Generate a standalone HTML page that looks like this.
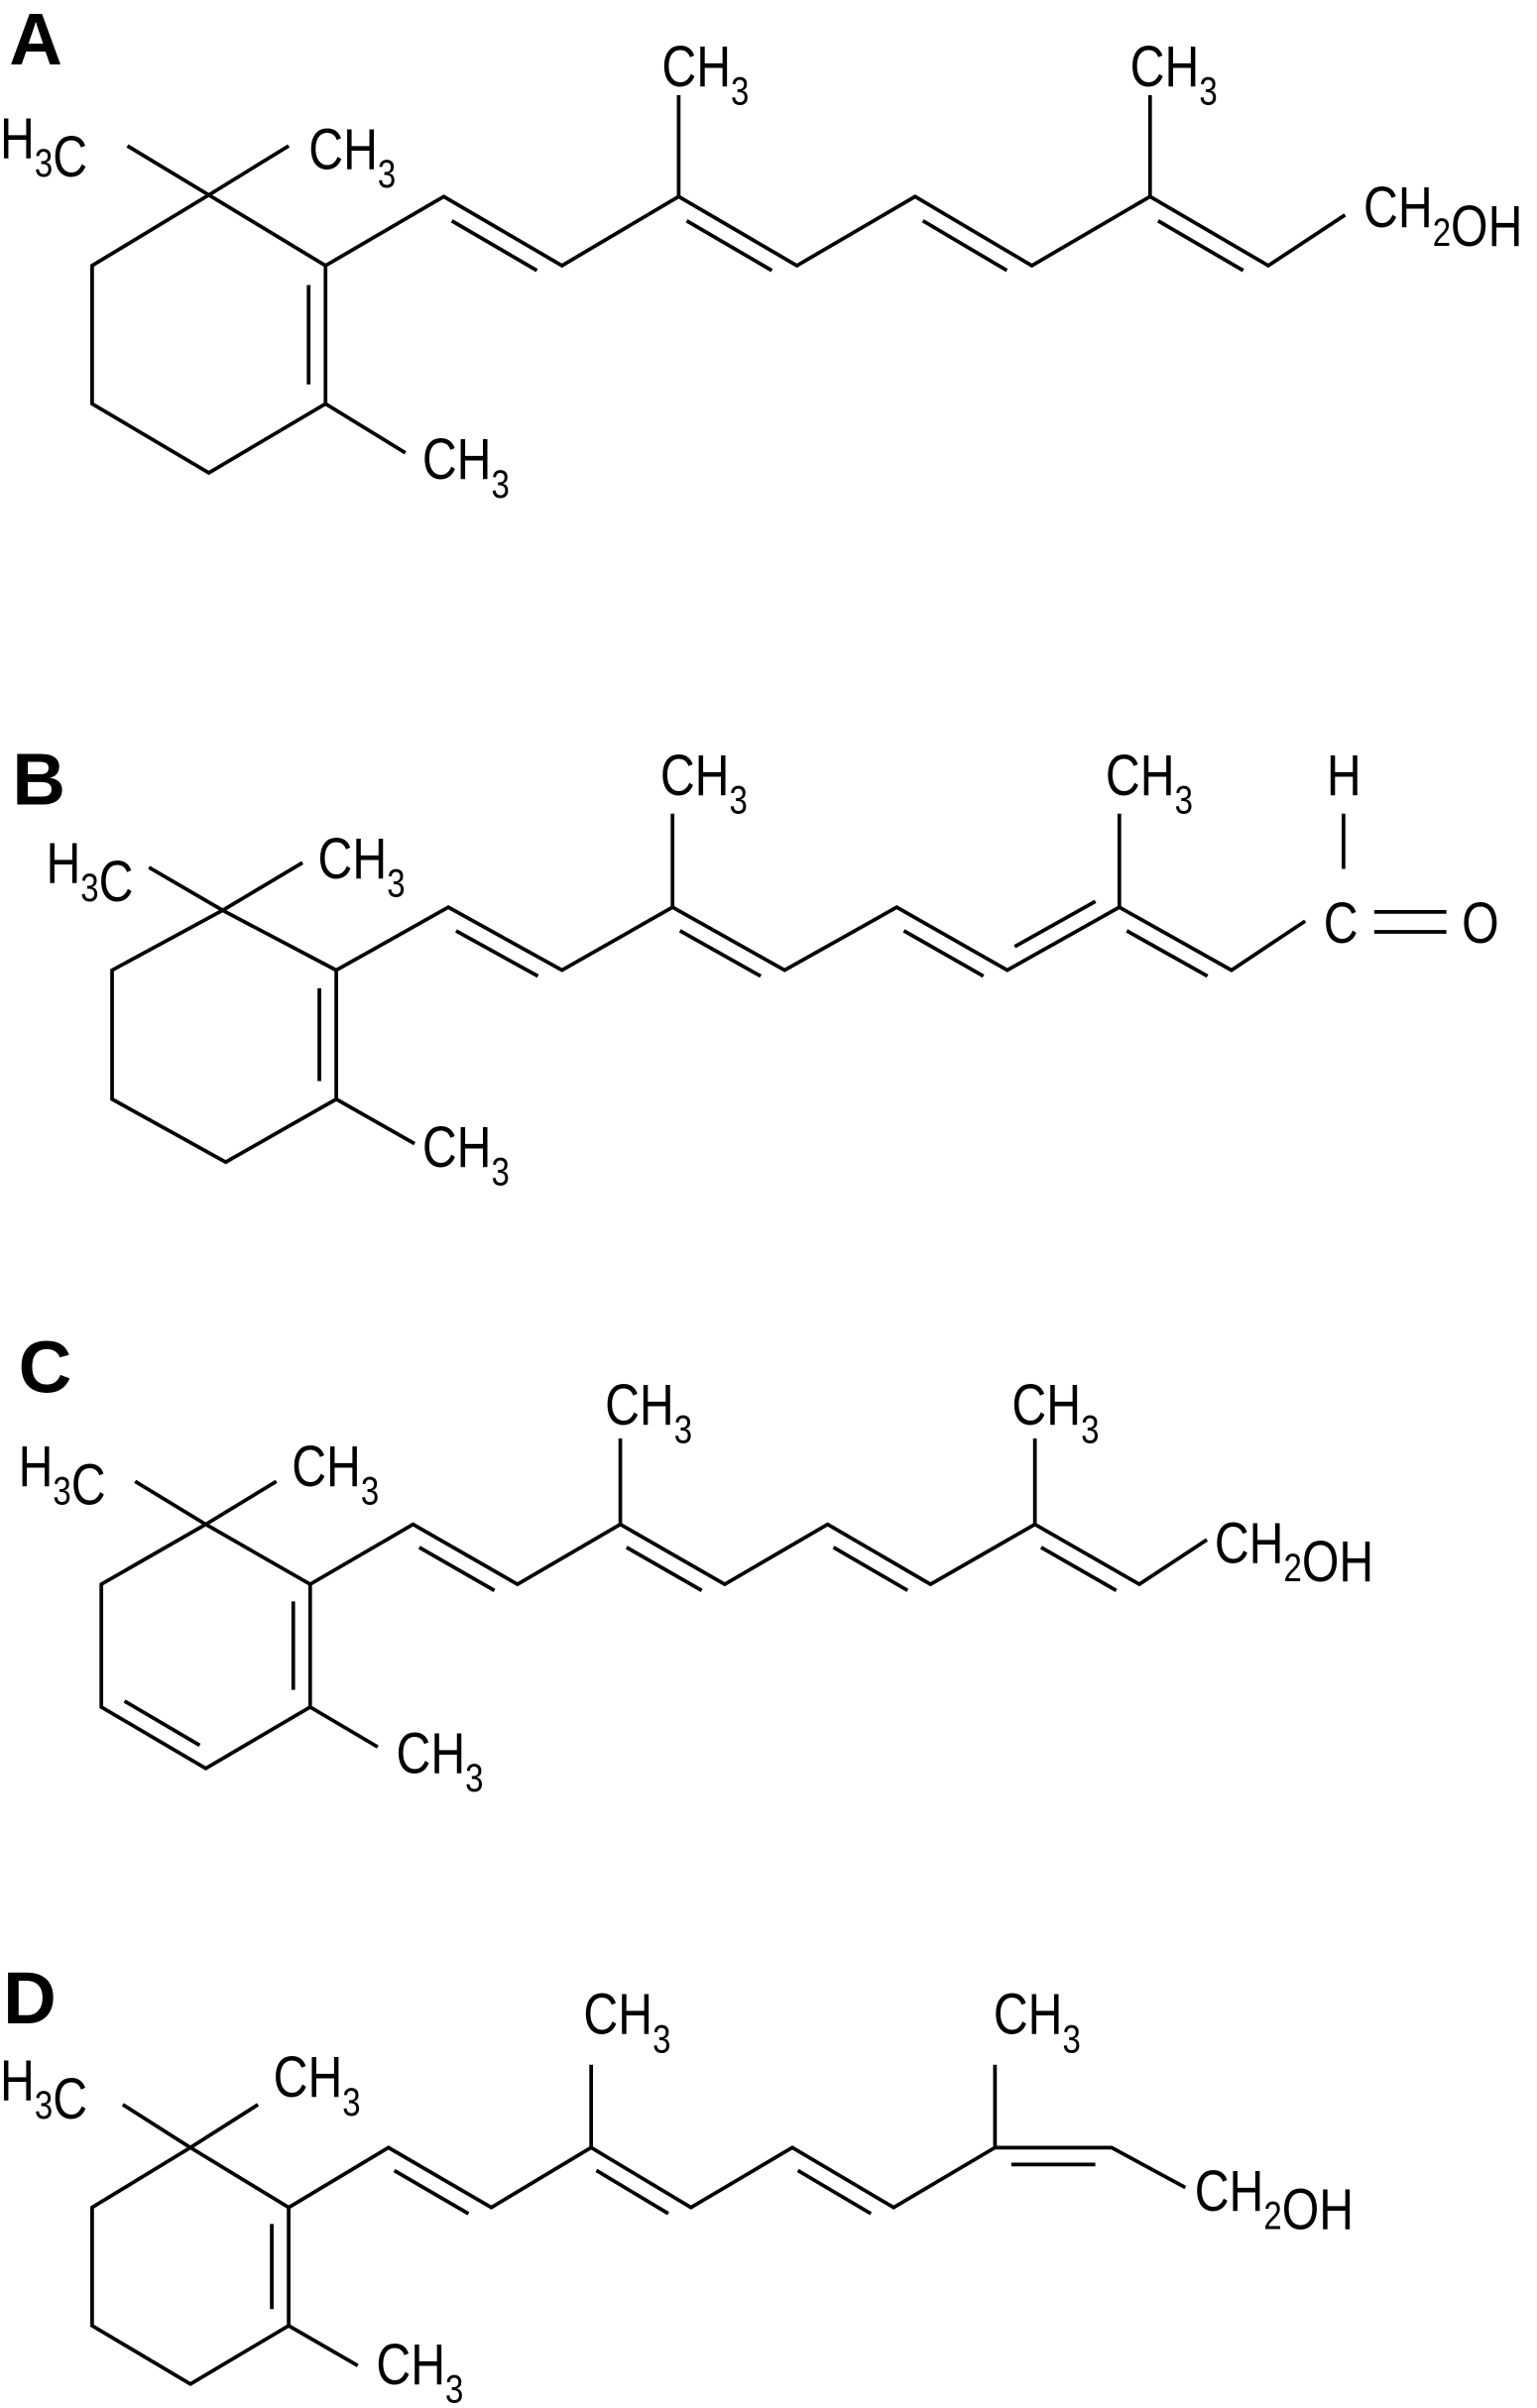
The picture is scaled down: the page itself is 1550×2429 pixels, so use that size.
<!DOCTYPE html>
<html><head><meta charset="utf-8">
<style>
html,body{margin:0;padding:0;background:#fff;}
svg{display:block;}
text{font-family:"Liberation Sans","DejaVu Sans",sans-serif;fill:#000;}
.lbl{font-size:38px;}
.sub{font-size:26px;}
.big{font-size:48px;font-weight:bold;}
</style></head>
<body>
<svg id="s" xmlns="http://www.w3.org/2000/svg" width="1550" height="2429" viewBox="0 0 1001 1568.6">
<g id="g" stroke="#000" stroke-width="2.4" fill="none" stroke-linecap="butt" stroke-linejoin="miter"></g>
<g id="t"></g>
</svg>
<script>
var g=document.getElementById('g'),t=document.getElementById('t');
var NS="http://www.w3.org/2000/svg";
var OY=0;
function L(a,b,c,d){var e=document.createElementNS(NS,'line');e.setAttribute('x1',a);e.setAttribute('y1',b+OY);e.setAttribute('x2',c);e.setAttribute('y2',d+OY);g.appendChild(e);}
function P(pts){var e=document.createElementNS(NS,'polyline');e.setAttribute('points',pts.map(function(p){return p[0]+','+(p[1]+OY)}).join(' '));g.appendChild(e);}
function D(p,q,s){var dx=q[0]-p[0],dy=q[1]-p[1],l=Math.hypot(dx,dy);var nx=-dy/l*s*11,ny=dx/l*s*11;var f=0.14;
L(p[0]+dx*f+nx,p[1]+dy*f+ny,q[0]-dx*f+nx,q[1]-dy*f+ny);}
function T(x,y,parts,cls){var e=document.createElementNS(NS,'text');e.setAttribute('x',0);e.setAttribute('y',0);e.setAttribute('class',cls||'lbl');
e.setAttribute('transform','translate('+x+','+y+') scale('+(cls?1:0.82)+',1)');
var h='';parts.forEach(function(p){if(typeof p==='string')h+='<tspan>'+p+'</tspan>';else h+='<tspan class="sub" dy="12">'+p[0]+'</tspan><tspan dy="-12"></tspan>';});
e.innerHTML=h;t.appendChild(e);}
var CH3=['CH',['3']],H3C=['H',['3'],'C'],CH2OH=['CH',['2'],'OH'];

// A
(function(){var q=[136,127],c1=[212,173],c2=[212,263],c3=[136,308],c4=[60,263],c5=[60,173];
P([q,c1,c2,c3,c4,c5,q]);D(c1,c2,1);L(136,127,83,95);L(136,127,188,95);L(212,263,264,295);
var ch=[c1,[289,128],[366,173],[442,128],[519,173],[596,128],[672,173],[749,128],[826,173],[876,140]];P(ch);
D(ch[1],ch[2],1);D(ch[3],ch[4],1);D(ch[5],ch[6],1);D(ch[7],ch[8],1);
L(442,128,442,62);L(749,128,749,62);
T(6,42,['A'],'big');T(0,103,H3C);T(201,110,CH3);T(275,312,CH3);T(431,56,CH3);T(736,56,CH3);T(888,148,CH2OH);})();

// B
(function(){var q=[145,593],c1=[219,632],c2=[219,716],c3=[147,757],c4=[73,716],c5=[73,632];
P([q,c1,c2,c3,c4,c5,q]);D(c1,c2,1);L(145,593,97,565);L(145,593,197,562);L(219,716,270,745);
var ch=[c1,[292,591],[366,632],[438,591],[511,632],[584,591],[656,632],[729,591],[802,632],[850,600]];P(ch);
D(ch[1],ch[2],1);D(ch[3],ch[4],1);D(ch[5],ch[6],1);D(ch[6],ch[7],-1);D(ch[7],ch[8],1);
L(438,591,438,530);L(729,591,729,530);L(875,530,875,566);L(895,594,942,594);L(895,607,942,607);
T(8,524,['B'],'big');T(30,575,H3C);T(207,572,CH3);T(275,760,CH3);T(430,518,CH3);T(720,518,CH3);
T(864,518,['H']);T(862,614,['C']);T(952,614,['O']);})();

// C
(function(){var q=[134,993],c1=[202,1032],c2=[202,1112],c3=[134,1152],c4=[66,1112],c5=[66,1032];
P([q,c1,c2,c3,c4,c5,q]);D(c1,c2,1);D(c3,c4,1);L(134,993,88,965);L(134,993,180,965);L(202,1112,246,1138);
var ch=[c1,[269,993],[337,1032],[404,993],[472,1032],[539,993],[606,1032],[674,993],[742,1032],[786,1003]];P(ch);
D(ch[1],ch[2],1);D(ch[3],ch[4],1);D(ch[5],ch[6],1);D(ch[7],ch[8],1);
L(404,993,404,937);L(674,993,674,937);
T(12,907,['C'],'big');T(12,968,H3C);T(190,968,CH3);T(258,1155,CH3);T(394,928,CH3);T(659,928,CH3);T(791,1018,CH2OH);})();

// D
OY=28;
(function(){var q=[124,1371],c1=[188,1410],c2=[188,1487],c3=[124,1525],c4=[60,1487],c5=[60,1410];
P([q,c1,c2,c3,c4,c5,q]);D(c1,c2,1);L(124,1371,80,1343);L(124,1371,168,1343);L(188,1487,233,1513);
var ch=[c1,[253,1371],[320,1410],[385,1371],[450,1410],[516,1371],[582,1410],[648,1371],[724,1371],[772,1397]];P(ch);
D(ch[1],ch[2],1);D(ch[3],ch[4],1);D(ch[5],ch[6],1);D(ch[7],ch[8],1);
L(385,1371,385,1317);L(648,1371,648,1317);})();
OY=0;
T(2,1318,['D'],'big');T(0,1368,H3C);T(178,1366,CH3);T(245,1553,CH3);T(380,1325,CH3);T(647,1325,CH3);T(778,1440,CH2OH);
</script>
</body></html>
